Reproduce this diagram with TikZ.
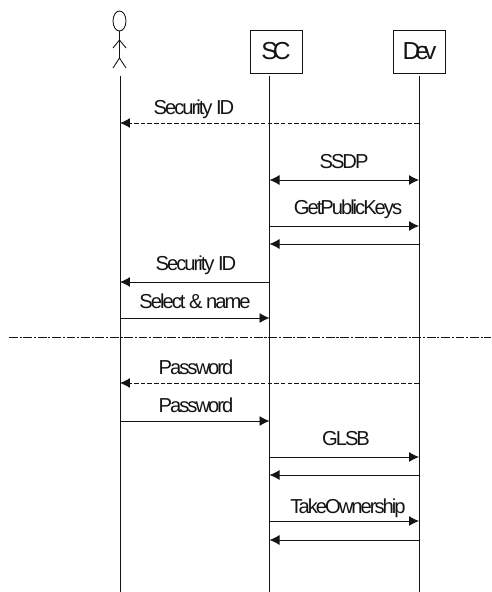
\documentclass[tikz,border=0pt]{standalone}
\usepackage{fontspec}
\setmainfont[LetterSpace=-10]{Liberation Sans}
\usetikzlibrary{shapes.geometric,arrows.meta}
\definecolor{inkline}{RGB}{20,20,20}

\begin{document}
\begin{tikzpicture}[x=0.02cm, y=-0.02cm, line width=0.5pt, draw=inkline, text=inkline,
        box/.style = {draw, rectangle, minimum width=1.04cm, minimum height=0.86cm, font=\fontsize{14}{15}\selectfont\addfontfeature{LetterSpace=-20}},
        lab/.style = {font=\fontsize{11.5}{13}\selectfont, inner sep=0pt},
        msg/.style = {-{Latex[length=2mm,width=2mm]}},
        dmsg/.style = {-{Latex[length=2mm,width=2mm]}, dash pattern=on 2.6pt off 1.2pt},
        bmsg/.style = {{Latex[length=2mm,width=2mm]}-{Latex[length=2mm,width=2mm]}},
        head/.style = {draw, ellipse, minimum width=0.26cm, minimum height=0.4cm, inner sep=0pt}]
    \useasboundingbox (0,0) rectangle (491,592);

    \node[head] (hd) at (119.5,21) {};
    \node[box] (sc) at (276,51.5) {SC};
    \node[box] (dev) at (419.5,51.5) {Dev};

    \coordinate (usrtop) at (120,76);
    \coordinate (sctop) at (269.5,76);
    \coordinate (devtop) at (419,76);
    \coordinate (usrend) at (120,592);
    \coordinate (scend) at (269.5,592);
    \coordinate (devend) at (419,592);

    % stick figure
    \coordinate (neck) at (119.5,58);
    \coordinate (armc) at (119.5,40);
    \coordinate (arml) at (113,48);
    \coordinate (armr) at (126,48);
    \coordinate (legl) at (113,68);
    \coordinate (legr) at (126,68);
    \draw (hd) -- (neck);
    \draw (arml) -- (armc) -- (armr);
    \draw (legl) -- (neck) -- (legr);

    \draw (usrtop) -- (usrend);
    \draw (sctop) -- (scend);
    \draw (devtop) -- (devend);

    % messages
    \coordinate (r1) at (0,123);
    \coordinate (r2) at (0,180);
    \coordinate (r3) at (0,226);
    \coordinate (r4) at (0,244);
    \coordinate (r5) at (0,282);
    \coordinate (r6) at (0,318);
    \coordinate (r7) at (0,383);
    \coordinate (r8) at (0,421);
    \coordinate (r9) at (0,457);
    \coordinate (r10) at (0,475);
    \coordinate (r11) at (0,521);
    \coordinate (r12) at (0,540);

    \draw[dmsg] (devtop |- r1) -- (usrtop |- r1);
    \draw[bmsg] (sctop |- r2) -- (devtop |- r2);
    \draw[msg] (sctop |- r3) -- (devtop |- r3);
    \draw[msg] (devtop |- r4) -- (sctop |- r4);
    \draw[msg] (sctop |- r5) -- (usrtop |- r5);
    \draw[msg] (usrtop |- r6) -- (sctop |- r6);
    \draw[dmsg] (devtop |- r7) -- (usrtop |- r7);
    \draw[msg] (usrtop |- r8) -- (sctop |- r8);
    \draw[msg] (sctop |- r9) -- (devtop |- r9);
    \draw[msg] (devtop |- r10) -- (sctop |- r10);
    \draw[msg] (sctop |- r11) -- (devtop |- r11);
    \draw[msg] (devtop |- r12) -- (sctop |- r12);

    \node[lab] (l1) at (194,109) {Security ID};
    \node[lab] (l2) at (344,162) {SSDP};
    \node[lab] (l3) at (348,209) {GetPublicKeys};
    \node[lab] (l5) at (196,265) {Security ID};
    \node[lab] (l6) at (195,301) {Select \& name};
    \node[lab] (l7) at (196,367) {Password};
    \node[lab] (l8) at (196,405) {Password};
    \node[lab] (l9) at (346,439) {GLSB};
    \node[lab] (l11) at (348,508) {TakeOwnership};

    % divider
    \coordinate (divl) at (9,337);
    \coordinate (divr) at (491,337);
    \draw[dash pattern=on 5pt off 1pt on 1.2pt off 1pt] (divl) -- (divr);
\end{tikzpicture}
\end{document}
